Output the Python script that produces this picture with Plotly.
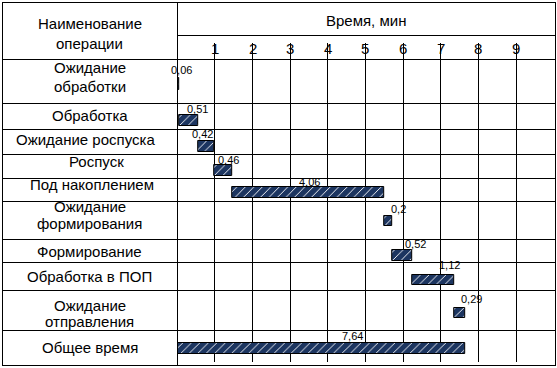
import numpy as np
import plotly.graph_objects as go

W, H = 557, 368

# ---------------- data ----------------
operations = ["Ожидание обработки", "Обработка", "Ожидание роспуска", "Роспуск",
              "Под накоплением", "Ожидание формирования", "Формирование",
              "Обработка в ПОП", "Ожидание отправления", "Общее время"]
durations = [0.06, 0.51, 0.42, 0.46, 4.06, 0.2, 0.52, 1.12, 0.29]
total_time = 7.64
value_labels = ["0,06", "0,51", "0,42", "0,46", "4,06", "0,2", "0,52", "1,12", "0,29", "7,64"]
tick_values = [1, 2, 3, 4, 5, 6, 7, 8, 9]
tick_labels = ["1", "2", "3", "4", "5", "6", "7", "8", "9"]
header_left = ["Наименование", "операции"]
header_right = "Время, мин"

starts = list(np.concatenate([[0.0], np.cumsum(durations)[:-1]])) + [0.0]
lengths = durations + [total_time]

# ---------------- layout (pixels) ----------------
row_edges = [59, 103, 129, 154, 178, 201, 239, 262, 290, 330]
bar_centers = [84, 120, 146, 170, 192, 221, 255, 280, 313, 348]
bar_heights = [12, 11, 11, 11, 11, 10, 11, 10, 10, 11]
label_dx = [3, 8, -4, 5, 1, 10, 14, 17, 12, 31]
label_dy = [-14, -11, -12, -10, -10, -12, -11, -15, -14, -12]
name_lines = [[("Ожидание", 68), ("обработки", 86)],
              [("Обработка", 115)],
              [("Ожидание роспуска", 139)],
              [("Роспуск", 161)],
              [("Под накоплением", 184)],
              [("Ожидание", 206), ("формирования", 223)],
              [("Формирование", 251)],
              [("Обработка в ПОП", 276)],
              [("Ожидание", 305), ("отправления", 321)],
              [("Общее время", 347)]]
name_dx = [0, 0, -4, 7, 2, 0, 0, 0, 0, 0]

LEFT, DIV, RIGHT, TOP, BOTTOM = 2, 177, 555, 2, 365
X0_PX, PX_PER_MIN = 177.2, 37.65
Y_TOP, Y_BOT = 43, 362

def px(x):
    return x / W

def py(y):
    return 1 - y / H

FONT = "Liberation Sans, Arial, sans-serif"
NAVY = "#1C3560"

fig = go.Figure()
fig.add_trace(go.Bar(
    orientation="h",
    base=starts,
    x=lengths,
    y=bar_centers,
    width=bar_heights,
    marker=dict(color=NAVY, line=dict(color="black", width=1),
                pattern=dict(shape="/", fgcolor="white", bgcolor=NAVY,
                             size=6, solidity=0.15, fillmode="replace")),
    hoverinfo="skip",
    showlegend=False,
))

x_range_max = (RIGHT + 0.5 - X0_PX) / PX_PER_MIN

fig.update_layout(
    width=W, height=H,
    margin=dict(l=0, r=0, t=0, b=0, pad=0),
    paper_bgcolor="white", plot_bgcolor="white",
    bargap=0,
    xaxis=dict(domain=[X0_PX / W, (RIGHT + 0.5) / W], range=[0, x_range_max],
               tickvals=tick_values, showticklabels=False, ticks="",
               showgrid=True, gridcolor="black", gridwidth=1,
               zeroline=False, showline=False, fixedrange=True),
    yaxis=dict(domain=[py(Y_BOT), py(Y_TOP)], range=[Y_BOT, Y_TOP],
               showticklabels=False, ticks="", showgrid=False,
               zeroline=False, showline=False, fixedrange=True),
)

shapes = []
def hline(y, x0, x1):
    shapes.append(dict(type="line", xref="paper", yref="paper",
                       x0=px(x0), x1=px(x1 + 1), y0=py(y + 0.5), y1=py(y + 0.5),
                       line=dict(color="black", width=1)))

def vline(x, y0, y1):
    shapes.append(dict(type="line", xref="paper", yref="paper",
                       x0=px(x + 0.5), x1=px(x + 0.5), y0=py(y0), y1=py(y1 + 1),
                       line=dict(color="black", width=1)))

hline(TOP, LEFT, RIGHT)
hline(35, DIV, RIGHT)
for e in row_edges:
    hline(e, LEFT, RIGHT)
hline(BOTTOM, LEFT, RIGHT)
vline(LEFT, TOP, BOTTOM)
vline(DIV, TOP, BOTTOM)
vline(RIGHT, TOP, BOTTOM)
fig.update_layout(shapes=shapes)

ann = []
def text(t, x, y, size=15, xref="paper", xshift=0):
    ann.append(dict(text=t, x=x, y=y, xref=xref, yref="paper", xshift=xshift,
                    xanchor="center", yanchor="middle", showarrow=False,
                    font=dict(family=FONT, size=size, color="black")))

# header
text(header_right, px((DIV + RIGHT) / 2), py(20))
for txt, yy in zip(header_left, [24, 43]):
    text(txt, px((LEFT + DIV) / 2), py(yy))
for tv, tl in zip(tick_values, tick_labels):
    text(tl, tv, py(49), xref="x")
# row names
for lines, dx in zip(name_lines, name_dx):
    for txt, yy in lines:
        text(txt, px((LEFT + DIV) / 2 + dx), py(yy))
# value labels
for s, l, lab, yc, dx, dy in zip(starts, lengths, value_labels, bar_centers, label_dx, label_dy):
    text(lab, s + l / 2, py(yc + dy), size=11, xref="x", xshift=dx)
fig.update_layout(annotations=ann)

fig.write_html("out.html", config={"displayModeBar": False},
               post_script="document.body.style.margin='0';document.body.style.overflow='hidden';")
